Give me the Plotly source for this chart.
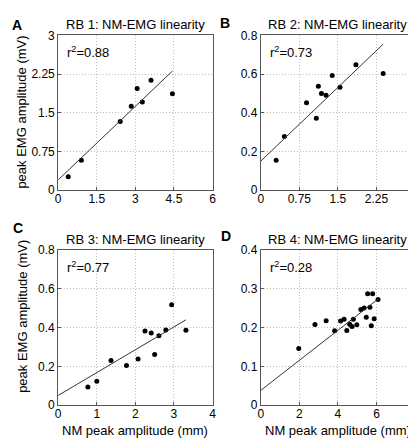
import plotly.graph_objects as go

# ---------------- data ----------------
rb1_nm = [0.39, 0.90, 2.41, 2.84, 3.07, 3.27, 3.61, 4.44]
rb1_emg = [0.26, 0.58, 1.33, 1.625, 1.97, 1.71, 2.13, 1.87]

rb2_nm = [0.30, 0.46, 0.89, 1.08, 1.12, 1.18, 1.27, 1.39, 1.54, 1.85, 2.38]
rb2_emg = [0.155, 0.277, 0.452, 0.372, 0.537, 0.50, 0.49, 0.592, 0.532, 0.648, 0.603]

rb3_nm = [0.77, 1.00, 1.37, 1.77, 2.07, 2.25, 2.41, 2.50, 2.61, 2.79, 2.94, 3.31]
rb3_emg = [0.093, 0.123, 0.23, 0.205, 0.238, 0.383, 0.372, 0.262, 0.358, 0.388, 0.518, 0.387]

rb4_nm = [1.97, 2.81, 3.39, 3.83, 4.14, 4.32, 4.46, 4.61, 4.73, 4.80,
          4.98, 5.19, 5.36, 5.47, 5.54, 5.66, 5.73, 5.80, 5.88, 6.08]
rb4_emg = [0.146, 0.208, 0.218, 0.192, 0.2175, 0.222, 0.1925, 0.209, 0.203, 0.222,
           0.2075, 0.247, 0.251, 0.227, 0.2875, 0.253, 0.205, 0.2875, 0.223, 0.273]

fit_intercept = [0.20, 0.150, 0.050, 0.038]
fit_slope = [0.475, 0.254, 0.118, 0.0388]
r2_labels = ["0.88", "0.73", "0.77", "0.28"]
panel_titles = ["RB 1: NM-EMG linearity", "RB 2: NM-EMG linearity",
                "RB 3: NM-EMG linearity", "RB 4: NM-EMG linearity"]
panel_letters = ["A", "B", "C", "D"]

x_ticks = [[0, 1.5, 3, 4.5, 6], [0, 0.75, 1.5, 2.25, 3], [0, 1, 2, 3, 4], [0, 2, 4, 6, 8]]
x_ticktext = [["0", "1.5", "3", "4.5", "6"], ["0", "0.75", "1.5", "2.25", "3"],
              ["0", "1", "2", "3", "4"], ["0", "2", "4", "6", "8"]]
y_ticks = [[0, 0.75, 1.5, 2.25, 3], [0, 0.2, 0.4, 0.6, 0.8], [0, 0.2, 0.4, 0.6, 0.8], [0, 0.1, 0.2, 0.3, 0.4]]
y_ticktext = [["0", "0.75", "1.5", "2.25", "3"], ["0", "0.2", "0.4", "0.6", "0.8"],
              ["0", "0.2", "0.4", "0.6", "0.8"], ["0", "0.1", "0.2", "0.3", "0.4"]]
x_ranges = [[0, 6], [0, 3], [0, 4], [0, 8]]
y_ranges = [[0, 3], [0, 0.8], [0, 0.8], [0, 0.4]]

xlabel = "NM peak amplitude (mm)"
ylabel = "peak EMG amplitude (mV)"

# ---------------- layout geometry (pixels) ----------------
W, H = 416, 438
FONT = "Liberation Sans, Arial, sans-serif"
px_x = [(48, 205), (254, 411), (48, 205), (254, 411)]
px_y = [(21, 181), (21, 181), (243, 403), (243, 403)]

def fx(p):
    return p / W

def fy(p):
    return 1 - p / H

datasets = [(rb1_nm, rb1_emg), (rb2_nm, rb2_emg), (rb3_nm, rb3_emg), (rb4_nm, rb4_emg)]

fig = go.Figure()
layout = dict(
    width=W, height=H,
    margin=dict(l=0, r=0, t=0, b=0),
    paper_bgcolor="white", plot_bgcolor="white",
    showlegend=False,
    font=dict(family=FONT, size=12, color="black"),
)
annotations = []

for i, (xs, ys) in enumerate(datasets):
    n = "" if i == 0 else str(i + 1)
    xa, ya = "x" + n, "y" + n
    fig.add_trace(go.Scatter(x=xs, y=ys, mode="markers", xaxis=xa, yaxis=ya,
                             marker=dict(color="black", size=5), cliponaxis=False))
    lx = [0, max(xs)]
    ly = [fit_intercept[i] + fit_slope[i] * v for v in lx]
    fig.add_trace(go.Scatter(x=lx, y=ly, mode="lines", xaxis=xa, yaxis=ya,
                             line=dict(color="#333333", width=1)))
    axis_common = dict(showline=True, linecolor="#555555", linewidth=1, mirror=True,
                       showgrid=True, gridcolor="#bdbdbd", griddash="1px,2px", gridwidth=1,
                       zeroline=False, ticks="inside", ticklen=3, tickcolor="#555555",
                       tickfont=dict(family=FONT, size=12, color="black"))
    layout["xaxis" + n] = dict(domain=[fx(px_x[i][0]), fx(px_x[i][1])], range=x_ranges[i],
                               tickvals=x_ticks[i], ticktext=x_ticktext[i],
                               ticklabelstandoff=-3,
                               anchor=ya, **axis_common)
    layout["yaxis" + n] = dict(domain=[fy(px_y[i][1]), fy(px_y[i][0])], range=y_ranges[i],
                               tickvals=y_ticks[i], ticktext=y_ticktext[i],
                               anchor=xa, **axis_common)
    cx = (px_x[i][0] + px_x[i][1]) / 2
    annotations.append(dict(text=panel_titles[i], x=fx(cx), y=fy(px_y[i][0] - 11),
                            xref="paper", yref="paper", showarrow=False,
                            xanchor="center", yanchor="middle",
                            font=dict(family=FONT, size=13, color="black")))
    annotations.append(dict(text="r<sup>2</sup>=" + r2_labels[i], x=fx(px_x[i][0] + 7),
                            y=fy(px_y[i][0] + 17), xref="paper", yref="paper",
                            showarrow=False, xanchor="left", yanchor="middle",
                            font=dict(family=FONT, size=13, color="black")))

letter_pos = [(6, 10), (218, 8), (7, 220), (219, 228)]
for i, (lxp, lyp) in enumerate(letter_pos):
    annotations.append(dict(text="<b>" + panel_letters[i] + "</b>", x=fx(lxp), y=fy(lyp),
                            xref="paper", yref="paper", showarrow=False,
                            xanchor="center", yanchor="middle",
                            font=dict(family=FONT, size=14, color="black")))

for (yx, yy) in [(11, 100), (11, 311)]:
    annotations.append(dict(text=ylabel, x=fx(yx), y=fy(yy), xref="paper", yref="paper",
                            showarrow=False, textangle=-90, xanchor="center", yanchor="middle",
                            font=dict(family=FONT, size=13, color="black")))
for (xx, xy) in [(126.5, 429), (332.5, 429)]:
    annotations.append(dict(text=xlabel, x=fx(xx), y=fy(xy), xref="paper", yref="paper",
                            showarrow=False, xanchor="center", yanchor="middle",
                            font=dict(family=FONT, size=13, color="black")))

layout["annotations"] = annotations
fig.update_layout(**layout)
fig.write_html("out.html")
